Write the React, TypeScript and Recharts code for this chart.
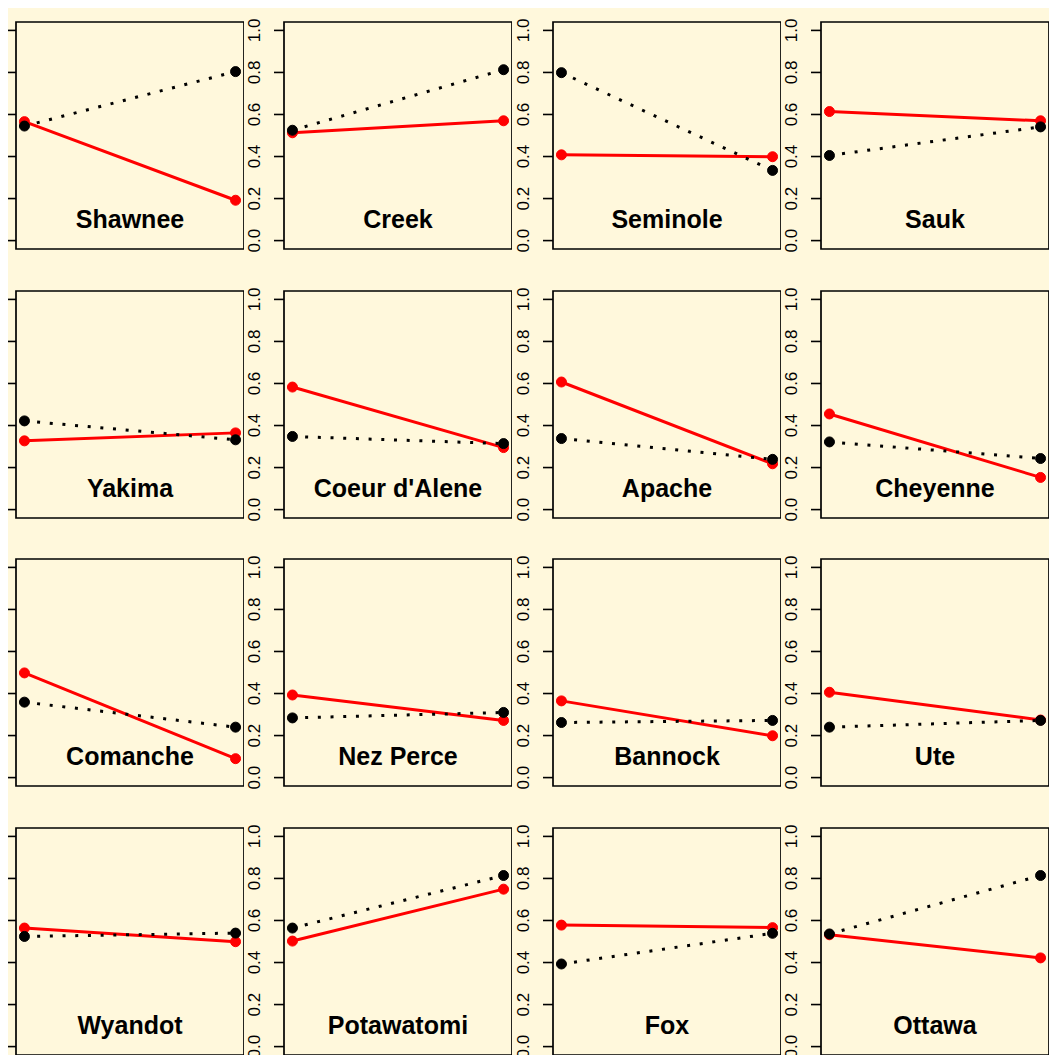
import React from 'react';
import {
  LineChart,
  Line,
  XAxis,
  YAxis,
  ReferenceArea,
  ReferenceDot
} from 'recharts';

// one panel per tribe, two time points each
const tribes = [
  'Shawnee', 'Creek', 'Seminole', 'Sauk',
  'Yakima', "Coeur d'Alene", 'Apache', 'Cheyenne',
  'Comanche', 'Nez Perce', 'Bannock', 'Ute',
  'Wyandot', 'Potawatomi', 'Fox', 'Ottawa'
];
const redStart = [0.566, 0.513, 0.408, 0.614, 0.327, 0.583, 0.607, 0.455, 0.498, 0.393, 0.365, 0.406, 0.564, 0.502, 0.578, 0.532];
const redEnd = [0.192, 0.570, 0.399, 0.570, 0.365, 0.295, 0.218, 0.153, 0.090, 0.272, 0.199, 0.274, 0.499, 0.749, 0.566, 0.422];
const blackStart = [0.545, 0.525, 0.799, 0.405, 0.422, 0.348, 0.338, 0.322, 0.359, 0.284, 0.262, 0.240, 0.524, 0.564, 0.393, 0.536];
const blackEnd = [0.804, 0.813, 0.334, 0.541, 0.332, 0.314, 0.239, 0.243, 0.240, 0.310, 0.272, 0.272, 0.540, 0.814, 0.539, 0.814];
const yTicks = [0, 0.2, 0.4, 0.6, 0.8, 1.0];

const BG = '#FFF8DC';
const FONT = '"Liberation Sans", Arial, Helvetica, sans-serif';

// panel geometry (page coords of the plot box)
const boxLefts = [16, 284, 553, 821];
const boxTops = [22, 291, 559, 828];
const BOX_W = 228;
const BOX_H = 227;
const AXIS_W = 45;
const PAD = 5;

const YTick = (props: any) => {
  const { x, y, payload, showLabel } = props;
  if (!showLabel) return <g />;
  const tx = x - 12;
  return (
    <text
      x={tx}
      y={y}
      transform={`rotate(-90, ${tx}, ${y})`}
      textAnchor="middle"
      fill="#000"
      fontSize={17}
      fontFamily={FONT}
    >
      {Number(payload.value).toFixed(1)}
    </text>
  );
};

const Panel = ({ i }: { i: number }) => {
  const data = [
    { x: 1, red: redStart[i], black: blackStart[i] },
    { x: 2, red: redEnd[i], black: blackEnd[i] }
  ];
  const row = Math.floor(i / 4);
  const col = i % 4;
  return (
    <div
      style={{
        position: 'absolute',
        left: boxLefts[col] - 8 - AXIS_W,
        top: boxTops[row] - 8 - PAD
      }}
    >
      <LineChart
        width={BOX_W + AXIS_W}
        height={BOX_H + PAD * 2}
        data={data}
        margin={{ top: PAD, right: 0, bottom: PAD, left: 0 }}
      >
        <XAxis dataKey="x" type="number" domain={[0.96, 2.04]} hide />
        <YAxis
          type="number"
          domain={[-0.04, 1.04]}
          ticks={yTicks}
          interval={0}
          width={AXIS_W}
          axisLine={false}
          tickSize={10}
          tickLine={{ stroke: '#000', strokeWidth: 1.6 }}
          tick={<YTick showLabel={col > 0} />}
        />
        <ReferenceArea
          x1={0.96}
          x2={2.04}
          y1={-0.04}
          y2={1.04}
          fill="none"
          fillOpacity={0}
          stroke="#000"
          strokeWidth={1.7}
        />
        <ReferenceDot
          x={1.5}
          y={0.1}
          r={0}
          fill="none"
          stroke="none"
          label={{
            value: tribes[i],
            position: 'center',
            fill: '#000',
            fontSize: 25,
            fontWeight: 'bold',
            fontFamily: FONT
          }}
        />
        <Line
          type="linear"
          dataKey="red"
          stroke="#FF0000"
          strokeWidth={3}
          dot={{ r: 5, fill: '#FF0000', stroke: '#FF0000', strokeWidth: 1 }}
          isAnimationActive={false}
        />
        <Line
          type="linear"
          dataKey="black"
          stroke="#000"
          strokeWidth={3}
          strokeDasharray="3 9.7"
          dot={{ r: 5, fill: '#000', stroke: '#000', strokeWidth: 1, strokeDasharray: '0' }}
          isAnimationActive={false}
        />
      </LineChart>
    </div>
  );
};

const App = () => {
  return (
    <div
      style={{
        position: 'fixed',
        left: 8,
        top: 8,
        width: 1041,
        height: 1047,
        background: BG,
        overflow: 'hidden'
      }}
    >
      {tribes.map((t, i) => (
        <Panel key={t} i={i} />
      ))}
    </div>
  );
};

export default App;
